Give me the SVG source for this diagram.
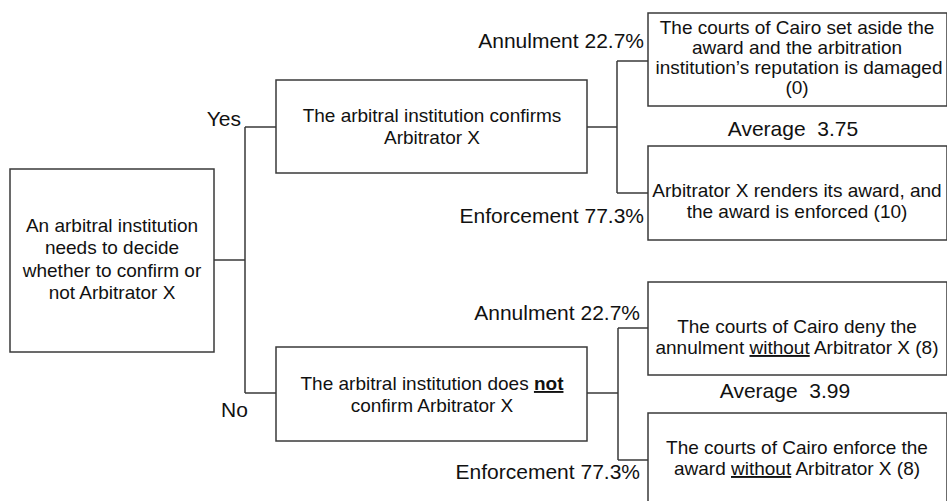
<svg xmlns="http://www.w3.org/2000/svg" width="947" height="501" viewBox="0 0 947 501">
<style>
.box{fill:#fff;stroke:#3a3a3a;stroke-width:1.5}
.ln{fill:none;stroke:#3a3a3a;stroke-width:1.5}
text{font-family:"Liberation Sans",Arial,sans-serif;fill:#111}
.t{font-size:19px;text-anchor:middle}
.lb{font-size:21px}
.e{text-anchor:end}
.m{text-anchor:middle}
.u{text-decoration:underline}
</style>
<rect width="947" height="501" fill="#fff"/>
<g id="connectors">
<path class="ln" d="M214,260H245M245,127V393M245,127H276M245,393H276"/>
<path class="ln" d="M587,127H617M617,61V193M617,61H648M617,193H648"/>
<path class="ln" d="M587,393H618M618,328V460M618,328H648M618,460H648"/>
</g>
<g id="root">
<rect class="box" x="10" y="169" width="204" height="183"/>
<text class="t" x="112" y="232">An arbitral institution</text>
<text class="t" x="112" y="254">needs to decide</text>
<text class="t" x="112" y="277">whether to confirm or</text>
<text class="t" x="112" y="299">not Arbitrator X</text>
</g>
<g id="label-yes"><text class="lb e" x="241" y="126">Yes</text></g>
<g id="label-no"><text class="lb" x="221" y="417">No</text></g>
<g id="confirm">
<rect class="box" x="276" y="80" width="311" height="93"/>
<text class="t" x="432" y="122">The arbitral institution confirms</text>
<text class="t" x="432" y="144">Arbitrator X</text>
</g>
<g id="notconfirm">
<rect class="box" x="276" y="347" width="311" height="94"/>
<text class="t" x="432" y="390">The arbitral institution does <tspan font-weight="bold" class="u">not</tspan></text>
<text class="t" x="432" y="412">confirm Arbitrator X</text>
</g>
<g id="labels-top">
<text class="lb e" x="644" y="48">Annulment 22.7%</text>
<text class="lb e" x="644" y="223">Enforcement 77.3%</text>
<text class="lb m" x="793" y="136" xml:space="preserve">Average  3.75</text>
</g>
<g id="labels-bottom">
<text class="lb e" x="640" y="320">Annulment 22.7%</text>
<text class="lb e" x="640" y="479">Enforcement 77.3%</text>
<text class="lb m" x="785" y="398" xml:space="preserve">Average  3.99</text>
</g>
<g id="annul-confirm">
<rect class="box" x="648" y="13" width="299" height="93"/>
<text class="t" x="797" y="34">The courts of Cairo set aside the</text>
<text class="t" x="797" y="54">award and the arbitration</text>
<text class="t" x="799" y="74">institution’s reputation is damaged</text>
<text class="t" x="797" y="94">(0)</text>
</g>
<g id="enforce-confirm">
<rect class="box" x="648" y="146" width="299" height="94"/>
<text class="t" x="797" y="197">Arbitrator X renders its award, and</text>
<text class="t" x="797" y="218">the award is enforced (10)</text>
</g>
<g id="annul-not">
<rect class="box" x="648" y="282" width="299" height="93"/>
<text class="t" x="797" y="333">The courts of Cairo deny the</text>
<text class="t" x="797" y="354">annulment <tspan class="u">without</tspan> Arbitrator X (8)</text>
</g>
<g id="enforce-not">
<rect class="box" x="648" y="413" width="299" height="95"/>
<text class="t" x="797" y="454">The courts of Cairo enforce the</text>
<text class="t" x="797" y="475">award <tspan class="u">without</tspan> Arbitrator X (8)</text>
</g>
</svg>
